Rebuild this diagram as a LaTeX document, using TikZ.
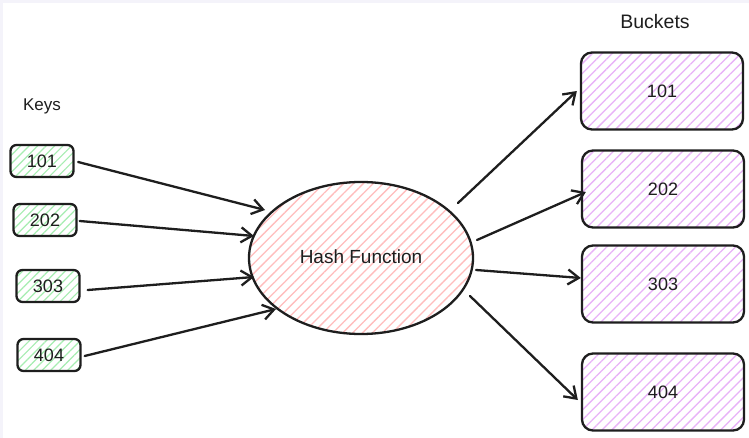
\documentclass[tikz,border=0pt]{standalone}
\usepackage{fontspec}
\setmainfont{Liberation Sans}
\usetikzlibrary{arrows.meta,patterns.meta}
\definecolor{keyhatch}{HTML}{A6EDB1}
\definecolor{hashhatch}{HTML}{FFBDBD}
\definecolor{buckhatch}{HTML}{E8B2F8}
\definecolor{ink}{HTML}{1E1E1E}
\definecolor{band}{HTML}{F4F3FA}
\tikzset{
  keybox/.style={draw=ink, line width=2.3pt, rounded corners=6pt, minimum width=63pt, minimum height=32pt,
    pattern={Lines[angle=45,distance=6pt,line width=1.2pt]}, pattern color=keyhatch, font=\fontsize{18}{21}\selectfont, text=ink},
  buckbox/.style={draw=ink, line width=2.3pt, rounded corners=11pt, minimum width=162pt, minimum height=77pt,
    pattern={Lines[angle=45,distance=7pt,line width=1.3pt]}, pattern color=buckhatch, font=\fontsize{18}{21}\selectfont, text=ink},
  lbl/.style={text=ink},
  conn/.style={draw=ink, line width=2.3pt, line cap=round, -{Straight Barb[length=11pt,width=15pt,line width=2.3pt]}}
}
\begin{document}
\begin{tikzpicture}[x=1pt,y=-1pt]
\useasboundingbox (0,0) rectangle (749,438);
\fill[white] (0,0) rectangle (749,438);
\fill[band] (0,0) rectangle (749,3);
\fill[band] (0,0) rectangle (3,438);

\node[lbl, font=\fontsize{17}{20}\selectfont] (keys) at (42,106) {Keys};
\node[lbl, font=\fontsize{19.5}{22}\selectfont] (buckets) at (655,22) {Buckets};

\node[keybox] (k1) at (42,161) {101};
\node[keybox] (k2) at (45,220) {202};
\node[keybox] (k3) at (48,286) {303};
\node[keybox] (k4) at (49,355) {404};

\path[draw=ink, line width=2.3pt, pattern={Lines[angle=45,distance=7pt,line width=1.3pt]}, pattern color=hashhatch]
  (361,258) ellipse [x radius=112, y radius=76];
\node[lbl, font=\fontsize{19}{22}\selectfont] (hash) at (361,257) {Hash Function};

\node[buckbox] (b1) at (662,91) {101};
\node[buckbox] (b2) at (663,189) {202};
\node[buckbox] (b3) at (663,284) {303};
\node[buckbox] (b4) at (663,392) {404};

\coordinate (h1) at (265,210);
\coordinate (h2) at (254,236);
\coordinate (h3) at (254,277);
\coordinate (h4) at (276,309);
\coordinate (o1) at (458,203);
\coordinate (o2) at (477,240);
\coordinate (o3) at (476,270);
\coordinate (o4) at (470,296);

\draw[conn] (k1.east) ++(4,1) -- (h1);
\draw[conn] (k2.east) ++(2,1) -- (h2);
\draw[conn] (k3.east) ++(7,4) -- (h3);
\draw[conn] (k4.east) ++(3,1) -- (h4);

\draw[conn] (o1) -- ([xshift=-3pt]b1.west);
\draw[conn] (o2) -- ([xshift=5pt,yshift=-3pt]b2.west);
\draw[conn] (o3) -- ([xshift=0pt,yshift=6pt]b3.west);
\draw[conn] (o4) -- ([xshift=-3pt,yshift=-8pt]b4.west);
\end{tikzpicture}
\end{document}
